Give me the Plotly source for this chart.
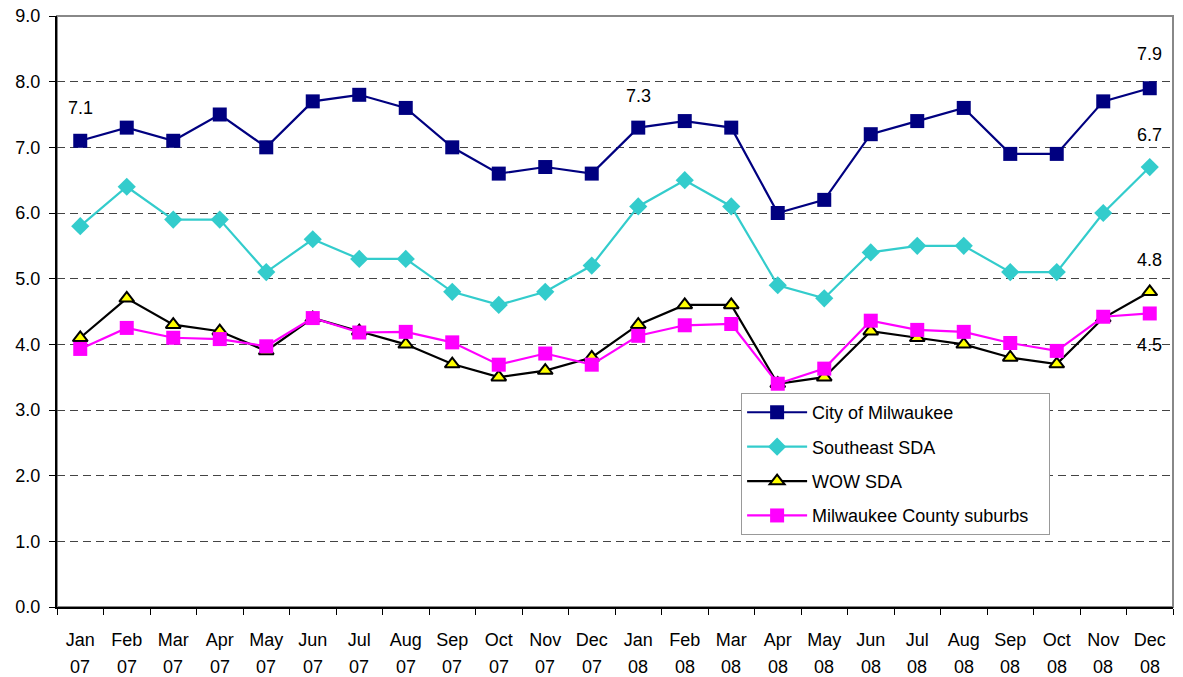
import plotly.graph_objects as go

months = ["Jan", "Feb", "Mar", "Apr", "May", "Jun", "Jul", "Aug", "Sep", "Oct", "Nov", "Dec",
          "Jan", "Feb", "Mar", "Apr", "May", "Jun", "Jul", "Aug", "Sep", "Oct", "Nov", "Dec"]
years = ["07"] * 12 + ["08"] * 12
categories = [m + " " + y for m, y in zip(months, years)]

city = [7.1, 7.3, 7.1, 7.5, 7.0, 7.7, 7.8, 7.6, 7.0, 6.6, 6.7, 6.6,
        7.3, 7.4, 7.3, 6.0, 6.2, 7.2, 7.4, 7.6, 6.9, 6.9, 7.7, 7.9]
southeast = [5.8, 6.4, 5.9, 5.9, 5.1, 5.6, 5.3, 5.3, 4.8, 4.6, 4.8, 5.2,
             6.1, 6.5, 6.1, 4.9, 4.7, 5.4, 5.5, 5.5, 5.1, 5.1, 6.0, 6.7]
wow = [4.1, 4.7, 4.3, 4.2, 3.9, 4.4, 4.2, 4.0, 3.7, 3.5, 3.6, 3.8,
       4.3, 4.6, 4.6, 3.4, 3.5, 4.2, 4.1, 4.0, 3.8, 3.7, 4.4, 4.8]
suburbs = [3.93, 4.25, 4.1, 4.08, 3.97, 4.4, 4.18, 4.19, 4.03, 3.69, 3.86, 3.69,
           4.13, 4.29, 4.31, 3.4, 3.63, 4.36, 4.22, 4.19, 4.02, 3.9, 4.42, 4.47]

FONT = "Liberation Sans, Arial, sans-serif"
PAD = "\u00a0\u00a0\u00a0"

fig = go.Figure()
fig.add_trace(go.Scatter(x=categories, y=city, name="City of Milwaukee", mode="lines+markers",
                         legendgroup="a",
                         line=dict(color="#000080", width=2.2),
                         marker=dict(symbol="square", size=14, color="#000080")))
fig.add_trace(go.Scatter(x=categories, y=southeast, name="Southeast SDA", mode="lines+markers",
                         legendgroup="b",
                         line=dict(color="#33CCCC", width=2.2),
                         marker=dict(symbol="diamond", size=14, color="#33CCCC")))
fig.add_trace(go.Scatter(x=categories, y=wow, name="WOW SDA", mode="lines+markers",
                         legendgroup="c",
                         line=dict(color="#000000", width=2.2),
                         marker=dict(symbol="triangle-up", size=13, color="#FFFF00",
                                     line=dict(color="#000000", width=2))))
fig.add_trace(go.Scatter(x=categories, y=suburbs, name="Milwaukee County suburbs" + PAD,
                         mode="lines+markers", legendgroup="d",
                         line=dict(color="#FF00FF", width=2.2),
                         marker=dict(symbol="square", size=14, color="#FF00FF")))

annots = [
    (categories[0], city[0], "7.1", 33),
    (categories[12], city[12], "7.3", 32),
    (categories[23], city[23], "7.9", 34),
    (categories[23], southeast[23], "6.7", 32),
    (categories[23], wow[23], "4.8", 32),
    (categories[23], suburbs[23], "4.5", -32),
]
for x, y, t, dy in annots:
    fig.add_annotation(x=x, y=y, text=t, showarrow=False, yshift=dy,
                       font=dict(family=FONT, size=18, color="#000000"))

# second row of the category labels (years)
for c, yr in zip(categories, years):
    fig.add_annotation(x=c, y=0, xref="x", yref="paper", text=yr, showarrow=False,
                       yanchor="middle", yshift=-60, borderpad=0,
                       font=dict(family=FONT, size=18, color="#000000"))

fig.update_layout(
    width=1183, height=677,
    margin=dict(l=57, r=10, t=16, b=70),
    paper_bgcolor="white", plot_bgcolor="white",
    font=dict(family=FONT, size=18, color="#000000"),
    showlegend=True,
    legend=dict(x=0.613, y=0.362, xanchor="left", yanchor="top",
                bgcolor="white", bordercolor="#999999", borderwidth=1,
                font=dict(family=FONT, size=18), tracegroupgap=8,
                itemwidth=60),
    xaxis=dict(type="category", range=[-0.5, 23.5], autorange=False, automargin=False,
               tickmode="array", tickvals=categories, ticktext=months,
               showgrid=False, showline=True, linecolor="#000000",
               linewidth=2, mirror=False, ticks="outside", tickson="boundaries",
               ticklen=6, tickcolor="#000000", ticklabelstandoff=15,
               ticklabeloverflow="allow",
               tickfont=dict(family=FONT, size=18)),
    yaxis=dict(range=[0, 9], autorange=False, automargin=False, dtick=1, tickformat=".1f",
               showgrid=True, gridcolor="#444444", griddash="8px,5px", gridwidth=1,
               showline=True, linecolor="#000000", linewidth=2,
               ticks="outside", ticklen=6, tickcolor="#000000", ticklabelstandoff=5,
               ticklabeloverflow="allow",
               tickfont=dict(family=FONT, size=18), zeroline=False),
)
# gray top/right border of plot area
fig.add_shape(type="rect", xref="paper", yref="paper", x0=0, y0=0, x1=1, y1=1,
              line=dict(color="#888888", width=2), layer="below")

fig.write_html("out.html", config={"displayModeBar": False},
               post_script="document.body.style.margin='0';document.body.style.overflow='hidden';")
